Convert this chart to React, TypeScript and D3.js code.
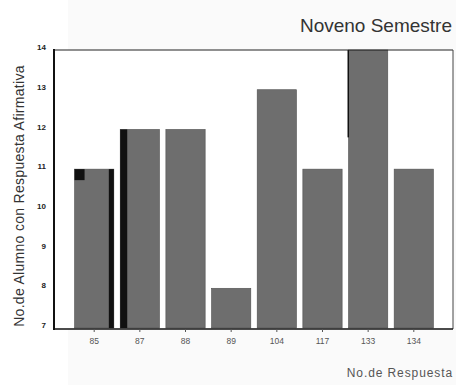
import React from "react";
import * as d3 from "d3";

const categories = ["85", "87", "88", "89", "104", "117", "133", "134"];
const values = [11, 12, 12, 8, 13, 11, 14, 11];
const yTicks = [7, 8, 9, 10, 11, 12, 13, 14];
const title = "Noveno Semestre";
const xLabel = "No.de Respuesta";
const yLabel = "No.de Alumno con Respuesta Afirmativa";

const W = 456;
const H = 385;

export default function App() {
  const x = d3.scaleBand<string>().domain(categories).range([70, 438]).paddingInner(0.14).paddingOuter(0.1);
  const y = d3.scaleLinear().domain([7, 14]).range([328, 50]);
  const bw = x.bandwidth();
  const font = "'Liberation Sans', Arial, sans-serif";

  return (
    <svg width={W} height={H} style={{ position: "absolute", left: 0, top: 0 }} fontFamily={font}>
      <rect x={0} y={0} width={W} height={H} fill="#ffffff" />
      <rect x={68} y={0} width={W - 68} height={H} fill="#fafafa" />
      <rect x={54} y={50} width={453 - 54} height={328 - 50} fill="#ffffff" />

      {categories.map((c, i) => (
        <rect
          key={c}
          x={x(c)}
          y={y(values[i])}
          width={bw}
          height={y(7) - y(values[i])}
          fill="#6e6e6e"
          stroke="#505050"
          strokeWidth={0.6}
        />
      ))}

      {/* scan artefacts along bar edges */}
      <rect x={(x("85") as number) + bw - 5} y={y(values[0])} width={5} height={y(7) - y(values[0])} fill="#111" />
      <rect x={(x("85") as number)} y={y(values[0])} width={10} height={11} fill="#111" />
      <rect x={(x("87") as number)} y={y(values[1])} width={7} height={y(7) - y(values[1])} fill="#111" />
      <rect x={(x("133") as number) - 1} y={y(14)} width={1.5} height={y(11.8) - y(14)} fill="#111" />

      {/* frame */}
      <line x1={54} x2={453} y1={50} y2={50} stroke="#222" strokeWidth={1.2} />
      <line x1={453} x2={453} y1={50} y2={329} stroke="#444" strokeWidth={1} />
      <line x1={54} x2={453} y1={329} y2={329} stroke="#111" strokeWidth={1.5} />
      <line x1={54} x2={54} y1={49} y2={330} stroke="#111" strokeWidth={2} />

      {yTicks.map((t) => (
        <g key={t}>
          <text x={46} y={y(t) - 2} textAnchor="end" dominantBaseline="middle" fontSize={8} fontWeight="bold" fill="#222">
            {t}
          </text>
        </g>
      ))}

      {categories.map((c) => (
        <g key={c}>
          <line
            x1={(x(c) as number) + bw / 2}
            x2={(x(c) as number) + bw / 2}
            y1={329}
            y2={332}
            stroke="#555"
            strokeWidth={1}
          />
          <text x={(x(c) as number) + bw / 2} y={344} textAnchor="middle" fontSize={8.5} fill="#555">
            {c}
          </text>
        </g>
      ))}

      <text x={452} y={32} textAnchor="end" fontSize={19} fill="#333">
        {title}
      </text>
      <text x={453} y={377} textAnchor="end" fontSize={12} letterSpacing={0.9} fill="#555">
        {xLabel}
      </text>
      <text
        transform={`translate(24, 196) rotate(-90)`}
        textAnchor="middle"
        fontSize={14}
        letterSpacing={0.3}
        fill="#333"
      >
        {yLabel}
      </text>
    </svg>
  );
}
